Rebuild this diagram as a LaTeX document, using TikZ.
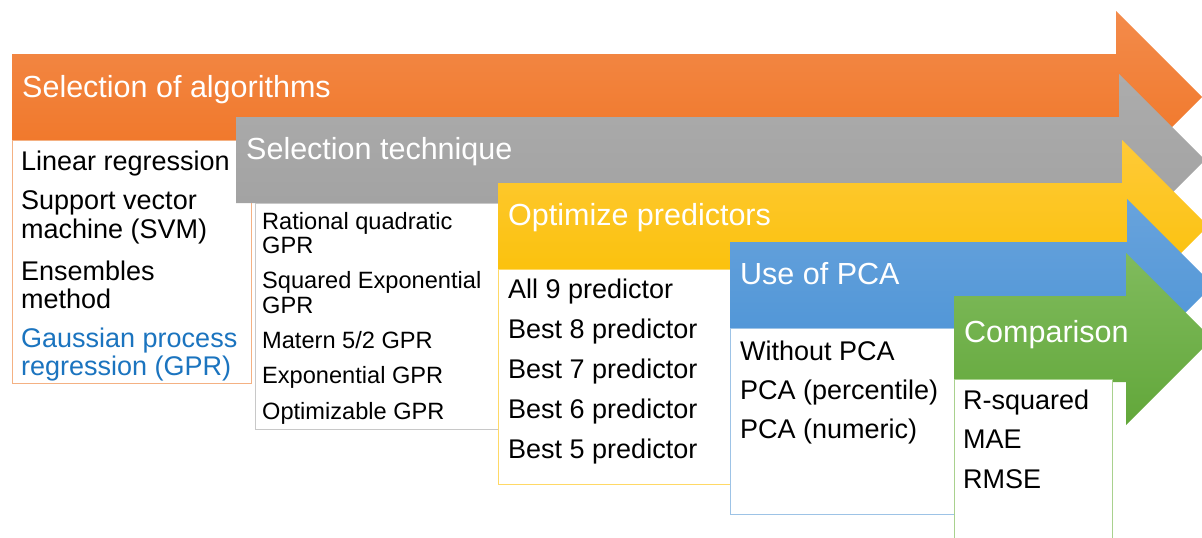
\documentclass[tikz,border=0pt]{standalone}
\usepackage{fontspec}
\setmainfont{Liberation Sans}

% Colours of the five stages
\definecolor{orgT}{HTML}{F38B4B}
\definecolor{orgB}{HTML}{F07322}
\definecolor{orgL}{HTML}{F4B183}
\definecolor{gryT}{HTML}{ACACAC}
\definecolor{gryB}{HTML}{A0A0A0}
\definecolor{gryL}{HTML}{C8C8C8}
\definecolor{ylwT}{HTML}{FFCA38}
\definecolor{ylwB}{HTML}{F9BF00}
\definecolor{ylwL}{HTML}{FFD966}
\definecolor{bluT}{HTML}{68A3DC}
\definecolor{bluB}{HTML}{4B93D6}
\definecolor{bluL}{HTML}{9DC3E6}
\definecolor{grnT}{HTML}{80BB5D}
\definecolor{grnB}{HTML}{62A73A}
\definecolor{grnL}{HTML}{A9D18E}
\definecolor{gprblue}{HTML}{1B74BF}

\begin{document}
\begin{tikzpicture}[x=1pt, y=-1pt,
    headtxt/.style={anchor=base west, inner sep=0pt, text=white, font=\fontsize{30.5}{36}\selectfont},
    itemtxt/.style={anchor=base west, inner sep=0pt, font=\fontsize{27}{32}\selectfont},
    smalltxt/.style={itemtxt, font=\fontsize{23.6}{28}\selectfont},
    listbox/.style={fill=white, line width=1pt}]
          % Define dimensions
          \def\bh{86}   % height of an arrow body
          \def\hh{43}   % overhang of the arrow head
          \useasboundingbox (0,0) rectangle (1202,538);
          \clip (0,0) rectangle (1202,538);

          % Draw arrows and their boxes, back to front
          \foreach \xa/\ty/\xh/\bx/\by/\ex/\ey/\ct/\cb/\cl in {
              12/54/1116/12/140/251/383/orgT/orgB/orgL,
              236/117/1119/255/203/498/429/gryT/gryB/gryL,
              498/183/1122/498/269/730/484/ylwT/ylwB/ylwL,
              730/242/1127/730/328/954/514/bluT/bluB/bluL,
              954/296/1126/954/379/1112/545/grnT/grnB/grnL}{
            \path[top color=\ct, bottom color=\cb]
              (\xa,\ty) -- (\xh,\ty) -- (\xh,\ty-\hh) -- (\xh+\bh,\ty+\hh)
              -- (\xh,\ty+\bh+\hh) -- (\xh,\ty+\bh) -- (\xa,\ty+\bh) -- cycle;
            \draw[listbox, draw=\cl] (\bx,\by) rectangle (\ex,\ey);
          }

          % Label arrows
          \node[headtxt] (hdAlg) at (22,97) {Selection of algorithms};
          \node[headtxt] (hdSel) at (246,159) {Selection technique};
          \node[headtxt] (hdOpt) at (508,225) {Optimize predictors};
          \node[headtxt] (hdPca) at (740,284) {Use of PCA};
          \node[headtxt] (hdCmp) at (964,342) {Comparison};

          % List of algorithms
          \foreach \yy/\txt [count=\i] in {170/Linear regression, 209/Support vector,
              238/machine (SVM), 280/Ensembles, 308/method}
            \node[itemtxt] (alg\i) at (21,\yy) {\txt};
          \node[itemtxt, text=gprblue] (gprA) at (21,347) {Gaussian process};
          \node[itemtxt, text=gprblue] (gprB) at (21,375) {regression (GPR)};

          % List of techniques
          \foreach \yy/\txt [count=\i] in {229/Rational quadratic, 253/GPR,
              288/Squared Exponential, 313/GPR, 348/{Matern 5/2 GPR},
              383/Exponential GPR, 419/Optimizable GPR}
            \node[smalltxt] (tec\i) at (262,\yy) {\txt};

          % List of predictor sets
          \foreach \yy/\txt [count=\i] in {298/All 9 predictor, 338/Best 8 predictor,
              378/Best 7 predictor, 418/Best 6 predictor, 458/Best 5 predictor}
            \node[itemtxt] (prd\i) at (508,\yy) {\txt};

          % PCA options
          \foreach \yy/\txt [count=\i] in {360/Without PCA, 399/PCA (percentile),
              438/PCA (numeric)}
            \node[itemtxt] (pca\i) at (740,\yy) {\txt};

          % Measures
          \foreach \yy/\txt [count=\i] in {409/R-squared, 448/MAE, 488/RMSE}
            \node[itemtxt] (msr\i) at (963,\yy) {\txt};
        \end{tikzpicture}
\end{document}
